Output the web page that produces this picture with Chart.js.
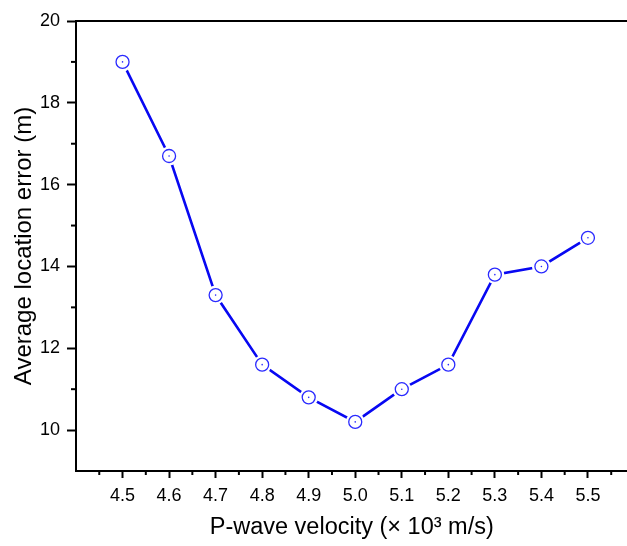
<!DOCTYPE html>
<html>
<head>
<meta charset="utf-8">
<script src="https://cdn.jsdelivr.net/npm/chart.js@4/dist/chart.umd.min.js"></script>
<style>
  html, body { margin: 0; padding: 0; background: #fff; overflow: hidden; }
</style>
</head>
<body>
<!-- canvas is a bit wider than the window: the plot's right side is cut off, as in the original -->
<canvas id="chart" width="637" height="546"></canvas>
<script>
// P-wave velocity (x 10^3 m/s) vs average location error (m)
const velocities = [4.5, 4.6, 4.7, 4.8, 4.9, 5.0, 5.1, 5.2, 5.3, 5.4, 5.5];
const errors = [19.0, 16.7, 13.3, 11.6, 10.8, 10.2, 11.0, 11.6, 13.8, 14.0, 14.7];
const xTickLabels = ['4.5', '4.6', '4.7', '4.8', '4.9', '5.0', '5.1', '5.2', '5.3', '5.4', '5.5'];
const yTickLabels = [10, 12, 14, 16, 18, 20];

const blue = '#0808f2';
const points = velocities.map((v, i) => ({ x: v, y: errors[i] }));

// top frame line + minor ticks
const framePlugin = {
    id: 'frame',
    afterDraw(chart) {
        const ctx = chart.ctx;
        const a = chart.chartArea;
        const xs = chart.scales.x, ys = chart.scales.y;
        ctx.save();
        ctx.strokeStyle = '#000';
        ctx.lineWidth = 2;
        ctx.beginPath();
        ctx.moveTo(a.left, a.top);
        ctx.lineTo(chart.width, a.top);
        ctx.stroke();
        // minor x ticks
        for (let v = 4.45; v < xs.max; v += 0.1) {
            const px = xs.getPixelForValue(v);
            ctx.beginPath();
            ctx.moveTo(px, a.bottom);
            ctx.lineTo(px, a.bottom + 4);
            ctx.stroke();
        }
        // minor y ticks
        for (let v = 11; v < 20; v += 2) {
            const py = ys.getPixelForValue(v);
            ctx.beginPath();
            ctx.moveTo(a.left, py);
            ctx.lineTo(a.left - 5, py);
            ctx.stroke();
        }
        ctx.restore();
    }
};

new Chart(document.getElementById('chart'), {
    type: 'scatter',
    data: {
        datasets: [
            { data: points, showLine: true, borderColor: blue, borderWidth: 2.6, pointRadius: 0, order: 4 },
            { data: points, showLine: false, pointRadius: 9.5, pointBackgroundColor: '#fff', pointBorderWidth: 0, pointBorderColor: '#fff', order: 3 },
            { data: points, showLine: false, pointRadius: 6.5, pointBackgroundColor: 'rgba(0,0,0,0)', pointBorderColor: '#2a2aff', pointBorderWidth: 1.3, order: 2 },
            { data: points, showLine: false, pointRadius: 0.8, pointBackgroundColor: '#2a2aff', pointBorderWidth: 0, order: 1 }
        ]
    },
    options: {
        responsive: false,
        animation: false,
        layout: { padding: { top: 21, right: 0, left: 0, bottom: 0 } },
        plugins: { legend: { display: false }, tooltip: { enabled: false } },
        scales: {
            x: {
                type: 'linear',
                min: 4.4,
                max: 5.585,
                afterBuildTicks: s => { s.ticks = velocities.map(v => ({ value: v })); },
                afterFit: s => { s.height = 75; },
                border: { color: '#000', width: 2 },
                grid: { drawOnChartArea: false, tickLength: 7, tickWidth: 2, tickColor: '#000' },
                ticks: {
                    color: '#000',
                    font: { family: 'Liberation Sans, Arial', size: 18 },
                    padding: 7,
                    maxRotation: 0,
                    callback: (v, i) => xTickLabels[i]
                },
                title: {
                    display: true,
                    text: 'P-wave velocity (× 10³ m/s)',
                    color: '#000',
                    font: { family: 'Liberation Sans, Arial', size: 23.5 },
                    padding: { top: 9 }
                }
            },
            y: {
                min: 9,
                max: 20,
                afterBuildTicks: s => { s.ticks = yTickLabels.map(v => ({ value: v })); },
                afterFit: s => { s.width = 76; },
                border: { color: '#000', width: 2 },
                grid: { drawOnChartArea: false, tickLength: 9, tickWidth: 2, tickColor: '#000' },
                ticks: {
                    color: '#000',
                    font: { family: 'Liberation Sans, Arial', size: 18 },
                    padding: 7
                },
                title: {
                    display: true,
                    text: 'Average location error (m)',
                    color: '#000',
                    font: { family: 'Liberation Sans, Arial', size: 24 },
                    padding: { top: 10, bottom: 0 }
                }
            }
        }
    },
    plugins: [framePlugin]
});
</script>
</body>
</html>
